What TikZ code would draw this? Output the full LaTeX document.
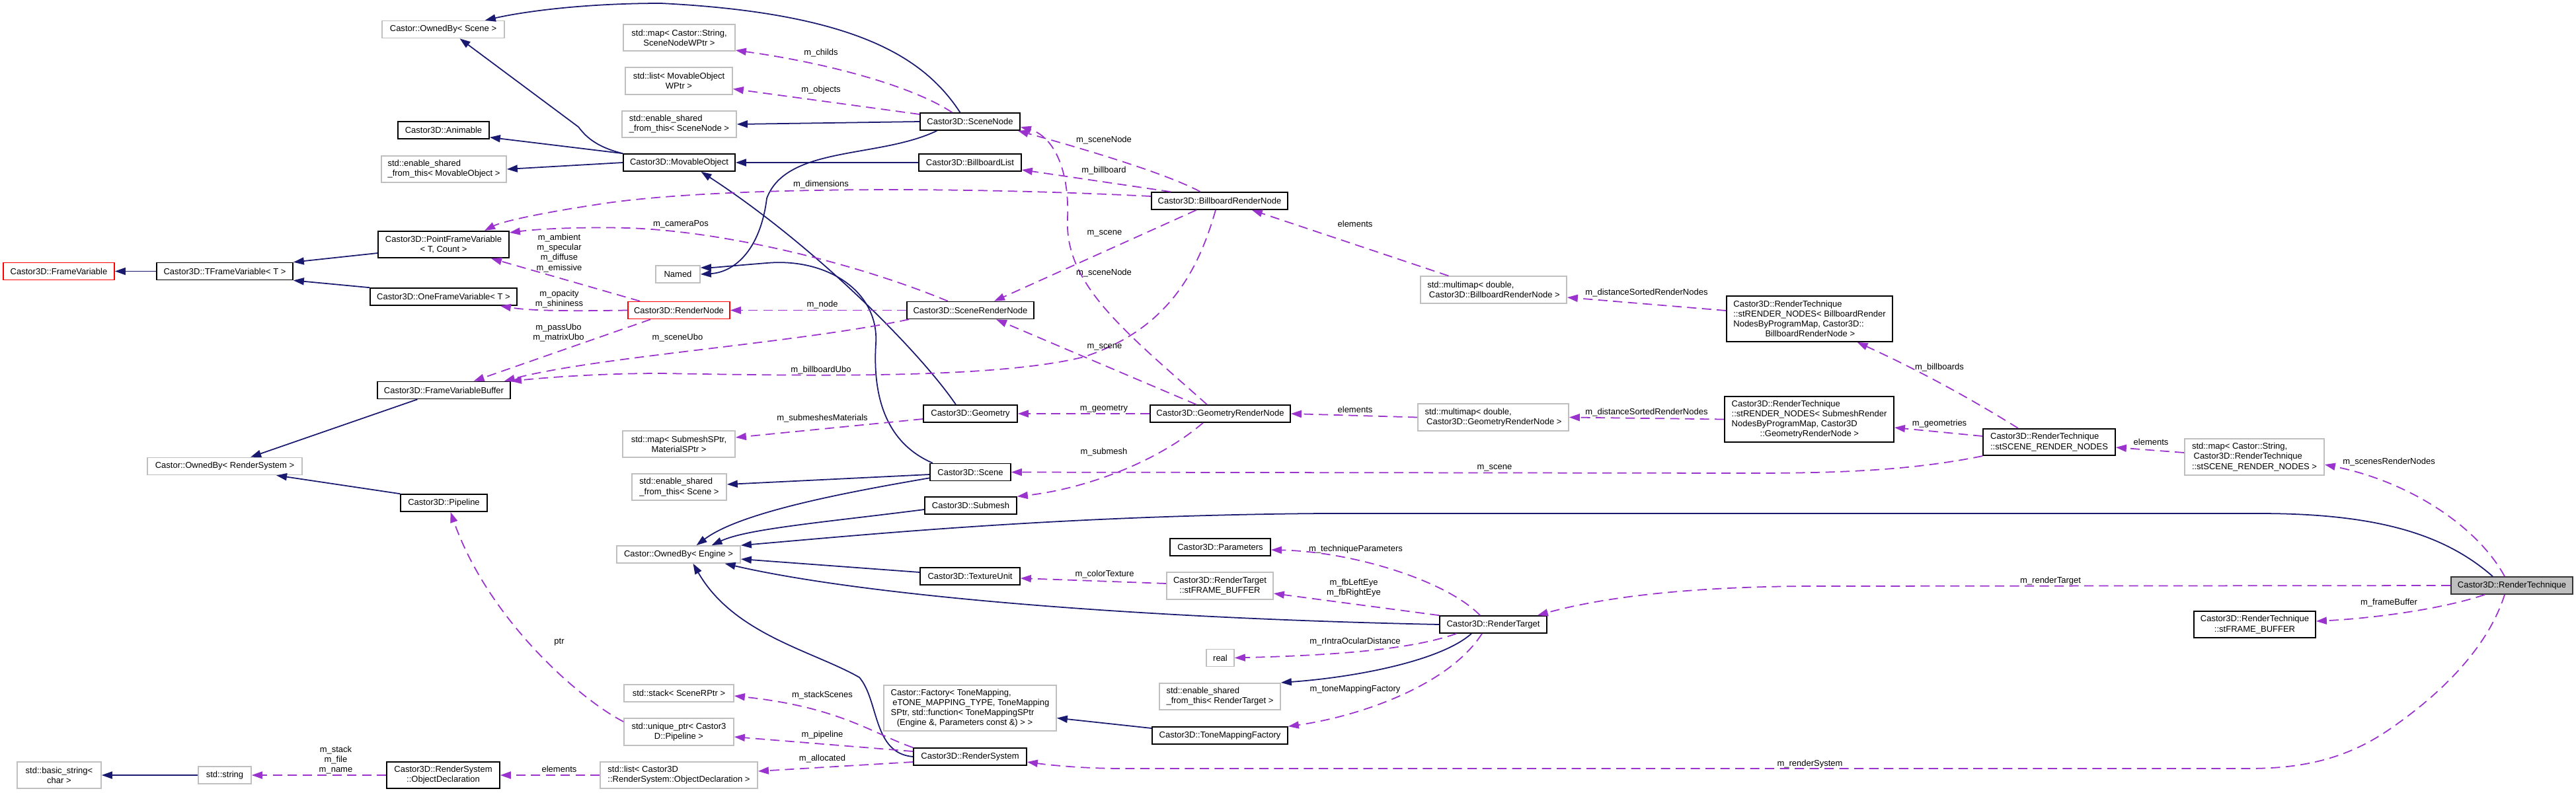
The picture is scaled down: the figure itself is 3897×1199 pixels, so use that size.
\documentclass[tikz,border=0pt]{standalone}
\usepackage{fontspec}
\setmainfont{Liberation Sans}
\usetikzlibrary{arrows.meta,positioning}
\definecolor{dxnavy}{HTML}{191970}
\definecolor{dxorchid}{HTML}{9A32CD}
\definecolor{dxgray}{HTML}{BFBFBF}

\begin{document}
\begin{tikzpicture}[x=0.01cm,y=-0.01cm,
  cls/.style={draw=black,fill=white,line width=0.45pt,align=center,
    font=\fontsize{3.7}{4.3}\selectfont,inner sep=0.4mm},
  ext/.style={cls,draw=dxgray},
  cut/.style={cls,draw=red},
  self/.style={cls,fill=dxgray,draw=black!80},
  h1/.style={minimum height=0.26cm},
  h2/.style={minimum height=0.405cm},
  h3/.style={minimum height=0.55cm},
  h4/.style={minimum height=0.69cm},
  inh/.style={dxnavy,line width=0.5pt,-{Triangle[length=1.6mm,width=1.1mm]}},
  use/.style={dxorchid,line width=0.5pt,dash pattern=on 4pt off 2.4pt,
    -{Triangle[length=1.6mm,width=1.1mm]}},
  lbl/.style={font=\fontsize{3.7}{4.3}\selectfont,align=center,inner sep=0pt}]
  \useasboundingbox (0,0) rectangle (3897,1199);

  \node[cut,minimum width=1.68cm,h1] (fv) at (89,410.5) {Castor3D::FrameVariable};
  \node[cls,minimum width=2.06cm,h1] (tfv) at (340,410.5) {Castor3D::TFrameVariable< T >};
  \node[cls,minimum width=1.98cm,h2] (pfv) at (671,370) {Castor3D::PointFrameVariable\\< T, Count >};
  \node[cls,minimum width=2.22cm,h1] (ofv) at (671,449) {Castor3D::OneFrameVariable< T >};
  \node[cls,minimum width=2.01cm,h1] (fvb) at (671.5,590.5) {Castor3D::FrameVariableBuffer};
  \node[ext,minimum width=2.34cm,h1] (obrs) at (340,705.5) {Castor::OwnedBy< RenderSystem >};
  \node[cls,minimum width=1.31cm,h1] (pipe) at (671.5,761) {Castor3D::Pipeline};
  \node[ext,minimum width=1.85cm,h1] (obsc) at (670.5,44.5) {Castor::OwnedBy< Scene >};
  \node[cls,minimum width=1.38cm,h1] (anim) at (671,197) {Castor3D::Animable};
  \node[ext,minimum width=1.89cm,h2,align=left] (esmo) at (671.5,256) {std::enable\_shared\\\_from\_this< MovableObject >};
  \node[ext,minimum width=1.69cm,h2] (mapsn) at (1027.5,57) {std::map< Castor::String,\\SceneNodeWPtr >};
  \node[ext,minimum width=1.62cm,h2] (listmo) at (1027,122.5) {std::list< MovableObject\\WPtr >};
  \node[ext,minimum width=1.73cm,h2,align=left] (essn) at (1027.5,188) {std::enable\_shared\\\_from\_this< SceneNode >};
  \node[cls,minimum width=1.69cm,h1] (mo) at (1027.5,246) {Castor3D::MovableObject};
  \node[ext,minimum width=0.67cm,h1] (named) at (1025.5,415) {Named};
  \node[cut,minimum width=1.54cm,h1] (rn) at (1027,469.5) {Castor3D::RenderNode};
  \node[ext,minimum width=1.70cm,h2] (mapsm) at (1027,672) {std::map< SubmeshSPtr,\\MaterialSPtr >};
  \node[ext,minimum width=1.43cm,h2,align=left] (essc) at (1027.5,737) {std::enable\_shared\\\_from\_this< Scene >};
  \node[ext,minimum width=1.87cm,h1] (obe) at (1026.5,839) {Castor::OwnedBy< Engine >};
  \node[ext,minimum width=1.66cm,h1] (stk) at (1027,1049) {std::stack< SceneRPtr >};
  \node[ext,minimum width=1.66cm,h2] (uptr) at (1027,1107.5) {std::unique\_ptr< Castor3\\D::Pipeline >};
  \node[ext,minimum width=2.38cm,h2,align=left] (listod) at (1027,1173) {std::list< Castor3D\\::RenderSystem::ObjectDeclaration >};
  \node[cls,minimum width=1.71cm,h2] (od) at (670.5,1173) {Castor3D::RenderSystem\\::ObjectDeclaration};
  \node[ext,minimum width=0.80cm,h1] (str) at (340,1173) {std::string};
  \node[ext,minimum width=1.27cm,h2] (bstr) at (89.5,1173) {std::basic\_string<\\char >};
  \node[cls,minimum width=1.51cm,h1] (sn) at (1467.5,184) {Castor3D::SceneNode};
  \node[cls,minimum width=1.55cm,h1] (bbl) at (1467.5,246) {Castor3D::BillboardList};
  \node[cls,minimum width=1.92cm,h1] (srn) at (1468,469.5) {Castor3D::SceneRenderNode};
  \node[cls,minimum width=1.42cm,h1] (geo) at (1468,626) {Castor3D::Geometry};
  \node[cls,minimum width=1.22cm,h1] (scene) at (1468,714.5) {Castor3D::Scene};
  \node[cls,minimum width=1.39cm,h1] (sub) at (1468.5,765) {Castor3D::Submesh};
  \node[cls,minimum width=1.51cm,h1] (tex) at (1467.5,872) {Castor3D::TextureUnit};
  \node[ext,minimum width=2.61cm,h4,align=left] (fact) at (1467.5,1071.5) {Castor::Factory< ToneMapping,\\\hspace*{0.2em}eTONE\_MAPPING\_TYPE, ToneMapping\\SPtr, std::function< ToneMappingSPtr\\\hspace*{0.7em}(Engine \&, Parameters const \&) > >};
  \node[cls,minimum width=1.71cm,h1] (rs) at (1467.5,1145) {Castor3D::RenderSystem};
  \node[cls,minimum width=2.06cm,h1] (brn) at (1845,304) {Castor3D::BillboardRenderNode};
  \node[cls,minimum width=2.12cm,h1] (grn) at (1846,626) {Castor3D::GeometryRenderNode};
  \node[cls,minimum width=1.52cm,h1] (par) at (1846,828) {Castor3D::Parameters};
  \node[ext,minimum width=1.61cm,h2] (rtfb) at (1845.5,886.5) {Castor3D::RenderTarget\\::stFRAME\_BUFFER};
  \node[ext,minimum width=0.42cm,h1] (real) at (1846,995.5) {real};
  \node[ext,minimum width=1.83cm,h2,align=left] (esrt) at (1845.5,1054) {std::enable\_shared\\\_from\_this< RenderTarget >};
  \node[cls,minimum width=2.05cm,h1] (tmf) at (1845.5,1113) {Castor3D::ToneMappingFactory};
  \node[ext,minimum width=2.21cm,h2,align=left] (mmbb) at (2259.5,438.5) {std::multimap< double,\\\hspace*{0.2em}Castor3D::BillboardRenderNode >};
  \node[ext,minimum width=2.28cm,h2,align=left] (mmgeo) at (2259,631.5) {std::multimap< double,\\\hspace*{0.2em}Castor3D::GeometryRenderNode >};
  \node[cls,minimum width=1.62cm,h1] (rt) at (2259,945) {Castor3D::RenderTarget};
  \node[cls,minimum width=2.51cm,h4,align=left] (rnbb) at (2737.5,482.5) {Castor3D::RenderTechnique\\::stRENDER\_NODES< BillboardRender\\NodesByProgramMap, Castor3D::\\\hspace*{3.7em}BillboardRenderNode >};
  \node[cls,minimum width=2.56cm,h4,align=left] (rnsub) at (2737,634.5) {Castor3D::RenderTechnique\\::stRENDER\_NODES< SubmeshRender\\NodesByProgramMap, Castor3D\\\hspace*{3.3em}::GeometryRenderNode >};
  \node[cls,minimum width=2.00cm,h2,align=left] (scrn) at (3100,669) {Castor3D::RenderTechnique\\::stSCENE\_RENDER\_NODES};
  \node[ext,minimum width=2.11cm,h3,align=left] (mapscrn) at (3410.5,691.5) {std::map< Castor::String,\\\hspace*{0.2em}Castor3D::RenderTechnique\\::stSCENE\_RENDER\_NODES >};
  \node[self,minimum width=1.84cm,h1] (tech) at (3800,886) {Castor3D::RenderTechnique};
  \node[cls,minimum width=1.84cm,h2] (techfb) at (3411,945) {Castor3D::RenderTechnique\\::stFRAME\_BUFFER};

  \draw[inh] (mo.north west) .. controls (900,222) and (885,205) .. (875,192) -- ([xshift=2.5mm]obsc.south);
  \draw[inh] (mo.north west) -- ([yshift=0.3mm]anim.south east);
  \draw[inh] (mo.west) -- (esmo.east);
  \draw[inh] ([xshift=-1.5mm]sn.north) .. controls (1400,90) and (1300,20) .. (1000,5) .. controls (880,5) and (790,18) .. ([xshift=-3mm]obsc.north east);
  \draw[inh] (sn.west) -- (essn.east);
  \draw[inh] ([xshift=-5mm]sn.south) .. controls (1330,240) and (1190,220) .. (1160,300) .. controls (1150,380) and (1110,412) .. (named.east);
  \draw[inh] ([xshift=-2.2mm]geo.north) .. controls (1390,530) and (1230,370) .. ([xshift=3.3mm]mo.south);
  \draw[inh] ([xshift=-5.7mm]scene.north) .. controls (1340,670) and (1320,600) .. (1325,520) .. controls (1330,440) and (1250,390) .. (1160,398) .. controls (1110,402) and (1080,405) .. ([yshift=1mm]named.east);
  \draw[inh] (bbl.west) -- (mo.east);
  \draw[inh] ([yshift=-0.35mm]scene.west) -- ([yshift=0.4mm]essc.east);
  \draw[inh] ([yshift=0.5mm]scene.south west) .. controls (1280,745) and (1120,775) .. ([xshift=2.7mm]obe.north);
  \draw[inh] ([yshift=-0.6mm]sub.west) .. controls (1250,790) and (1130,800) .. ([xshift=5mm]obe.north);
  \draw[inh] ([xshift=-2.9mm]tech.north) .. controls (3700,810) and (3600,777) .. (3418,777) -- (2000,777) .. controls (1600,780) and (1300,810) .. (obe.north east);
  \draw[inh] ([yshift=0.6mm]tex.west) -- ([yshift=-0.7mm]obe.east);
  \draw[inh] (rt.west) .. controls (1700,935) and (1300,900) .. ([xshift=7mm]obe.south);
  \draw[inh] (rs.west) .. controls (1320,1140) and (1330,1060) .. (1300,1025) .. controls (1230,985) and (1110,960) .. ([xshift=2.2mm]obe.south);
  \draw[inh] ([xshift=-3.3mm]rt.south) .. controls (2180,1000) and (2050,1025) .. (esrt.north east);
  \draw[inh] ([yshift=1.1mm]tmf.west) -- ([yshift=-1.5mm]fact.east);
  \draw[inh] (tfv.west) -- (fv.east);
  \draw[inh] ([yshift=-1.3mm]pfv.west) -- (tfv.north east);
  \draw[inh] (ofv.north west) -- (tfv.south east);
  \draw[inh] ([xshift=-4mm]fvb.south) -- ([xshift=3.9mm]obrs.north);
  \draw[inh] (pipe.north west) -- ([xshift=7.8mm]obrs.south);
  \draw[inh] (str.west) -- (bstr.east);

  \draw[use] ([xshift=-2.7mm]sn.north) .. controls (1380,130) and (1250,95) .. ([yshift=0.2mm]mapsn.south east);
  \draw[use] ([yshift=1.1mm]sn.west) -- ([yshift=-1.2mm]listmo.east);
  \draw[use] ([xshift=-2.9mm]brn.north) .. controls (1760,260) and (1620,220) .. ([xshift=-0.4mm]sn.south east);
  \draw[use] ([xshift=3mm]brn.north west) -- ([yshift=-1.1mm]bbl.east);
  \draw[use] ([yshift=0.7mm]brn.west) .. controls (1400,280) and (1050,285) .. (900,310) .. controls (820,322) and (760,335) .. ([xshift=6.2mm]pfv.north);
  \draw[use] ([xshift=-3.5mm]brn.south) -- ([xshift=3.6mm]srn.north);
  \draw[use] ([xshift=-0.6mm]brn.south) .. controls (1810,420) and (1760,500) .. (1640,540) .. controls (1500,575) and (1200,568) .. (1000,565) .. controls (900,565) and (820,572) .. (fvb.north east);
  \draw[use] ([xshift=-6.8mm]mmbb.north) -- ([xshift=-5.5mm]brn.south east);
  \draw[use] ([xshift=-3.4mm]srn.north) .. controls (1300,400) and (1100,350) .. (950,345) .. controls (870,343) and (810,347) .. ([yshift=1.8mm]pfv.east);
  \draw[use] (srn.west) -- (rn.east);
  \draw[use] ([xshift=0.4mm]srn.south west) .. controls (1200,520) and (900,540) .. ([xshift=-1mm]fvb.north east);
  \draw[use] ([xshift=1.9mm]rn.north west) -- ([xshift=7.2mm]pfv.south);
  \draw[use] (rn.west) .. controls (850,471) and (800,470) .. ([xshift=-2.6mm]ofv.south east);
  \draw[use] ([xshift=3.5mm]rn.south west) -- ([xshift=4.5mm]fvb.north);
  \draw[use] ([xshift=-2mm]grn.north) .. controls (1700,500) and (1610,430) .. (1615,330) .. controls (1618,250) and (1590,205) .. ([yshift=-0.8mm]sn.east);
  \draw[use] ([xshift=-3.6mm]grn.north) -- ([xshift=3.9mm]srn.south);
  \draw[use] (grn.west) -- (geo.east);
  \draw[use] ([xshift=-2.6mm]grn.south) .. controls (1750,700) and (1640,740) .. (sub.north east);
  \draw[use] (mmgeo.west) -- (grn.east);
  \draw[use] ([yshift=-0.8mm]geo.west) -- ([yshift=1mm]mapsm.east);
  \draw[use] ([yshift=1.25mm]rnbb.west) -- ([yshift=-1.15mm]mmbb.east);
  \draw[use] (rnsub.west) -- (mmgeo.east);
  \draw[use] ([xshift=-4.7mm]scrn.north) .. controls (2960,590) and (2880,550) .. ([xshift=7.2mm]rnbb.south);
  \draw[use] ([yshift=0.9mm]scrn.west) -- ([yshift=-1.25mm]rnsub.east);
  \draw[use] (scrn.south west) .. controls (2900,710) and (2800,716) .. (2650,716) -- (scene.east);
  \draw[use] ([yshift=0.65mm]mapscrn.west) -- ([yshift=-0.8mm]scrn.east);
  \draw[use] ([xshift=-1.1mm]tech.north) .. controls (3750,800) and (3650,730) .. ([yshift=-1.15mm]mapscrn.east);
  \draw[use] (tech.west) -- (2750,887) .. controls (2550,887) and (2420,905) .. ([xshift=-1.5mm]rt.north east);
  \draw[use] ([xshift=-4.1mm]tech.south) .. controls (3700,920) and (3600,935) .. ([yshift=0.5mm]techfb.east);
  \draw[use] ([xshift=-1.1mm]tech.south) .. controls (3770,960) and (3720,1030) .. (3620,1100) .. controls (3550,1150) and (3480,1163) .. (3400,1163) -- (1700,1163) .. controls (1640,1163) and (1590,1158) .. ([yshift=-0.8mm]rs.east);
  \draw[use] ([xshift=-2mm]rt.north) .. controls (2190,880) and (2050,835) .. ([yshift=-0.4mm]par.east);
  \draw[use] (rt.north west) -- ([yshift=-1.15mm]rtfb.east);
  \draw[use] ([xshift=2.6mm]rt.south west) .. controls (2130,985) and (2000,992) .. (real.east);
  \draw[use] ([xshift=-1.7mm]rt.south) .. controls (2190,1040) and (2050,1085) .. (tmf.north east);
  \draw[use] ([yshift=0.35mm]rtfb.west) -- ([yshift=-0.3mm]tex.east);
  \draw[use] (rs.north west) .. controls (1320,1110) and (1270,1070) .. ([yshift=-0.4mm]stk.east);
  \draw[use] ([yshift=0.8mm]rs.west) -- ([yshift=-0.75mm]uptr.east);
  \draw[use] ([yshift=-0.8mm]rs.west) -- ([yshift=0.6mm]listod.east);
  \draw[use] ([yshift=1.55mm]uptr.west) .. controls (880,1060) and (740,940) .. ([xshift=1mm]pipe.south);
  \draw[use] (listod.west) -- (od.east);
  \draw[use] (od.west) -- (str.east);

  \node[lbl] (lchilds) at (1242,80) {m\_childs};
  \node[lbl] (lobjects) at (1242,136) {m\_objects};
  \node[lbl] (ldims) at (1242,279) {m\_dimensions};
  \node[lbl] (lcampos) at (1030,339) {m\_cameraPos};
  \node[lbl] (lambient) at (846,383) {m\_ambient\\m\_specular\\m\_diffuse\\m\_emissive};
  \node[lbl] (lopacity) at (846,452.5) {m\_opacity\\m\_shininess};
  \node[lbl] (lpassubo) at (845,503.5) {m\_passUbo\\m\_matrixUbo};
  \node[lbl] (lsceneubo) at (1025,511) {m\_sceneUbo};
  \node[lbl] (lnode) at (1244,461) {m\_node};
  \node[lbl] (lbbubo) at (1242,560) {m\_billboardUbo};
  \node[lbl] (lsnodea) at (1670,212) {m\_sceneNode};
  \node[lbl] (lbillboard) at (1670,258) {m\_billboard};
  \node[lbl] (lscenea) at (1671,353) {m\_scene};
  \node[lbl] (lsnodeb) at (1670,413) {m\_sceneNode};
  \node[lbl] (lsceneb) at (1671,525) {m\_scene};
  \node[lbl] (lgeometry) at (1670,619) {m\_geometry};
  \node[lbl] (lsubmesh) at (1670,684) {m\_submesh};
  \node[lbl] (lsubmat) at (1244,633) {m\_submeshesMaterials};
  \node[lbl] (lelema) at (2050,339) {elements};
  \node[lbl] (lelemb) at (2050,620) {elements};
  \node[lbl] (ldista) at (2491,443) {m\_distanceSortedRenderNodes};
  \node[lbl] (ldistb) at (2491,624) {m\_distanceSortedRenderNodes};
  \node[lbl] (lbillboards) at (2934,556) {m\_billboards};
  \node[lbl] (lgeometries) at (2934,641) {m\_geometries};
  \node[lbl] (lscenec) at (2261,708) {m\_scene};
  \node[lbl] (lelemc) at (3254,669) {elements};
  \node[lbl] (lscenesrn) at (3614,699) {m\_scenesRenderNodes};
  \node[lbl] (lrtarget) at (3102,879) {m\_renderTarget};
  \node[lbl] (lfbuffer) at (3614,912) {m\_frameBuffer};
  \node[lbl] (lrsystem) at (2738,1156) {m\_renderSystem};
  \node[lbl] (ltechpar) at (2051,831) {m\_techniqueParameters};
  \node[lbl] (lfbeyes) at (2048,890) {m\_fbLeftEye\\m\_fbRightEye};
  \node[lbl] (lintra) at (2050,971) {m\_rIntraOcularDistance};
  \node[lbl] (ltonemap) at (2050,1043) {m\_toneMappingFactory};
  \node[lbl] (lcoltex) at (1671,869) {m\_colorTexture};
  \node[lbl] (lstack) at (1244,1052) {m\_stackScenes};
  \node[lbl] (lpipeline) at (1244,1112) {m\_pipeline};
  \node[lbl] (lalloc) at (1244,1148) {m\_allocated};
  \node[lbl] (lptr) at (846,972) {ptr};
  \node[lbl] (lelemd) at (846,1164) {elements};
  \node[lbl] (lstackfile) at (508,1150) {m\_stack\\m\_file\\m\_name};
\end{tikzpicture}
\end{document}
